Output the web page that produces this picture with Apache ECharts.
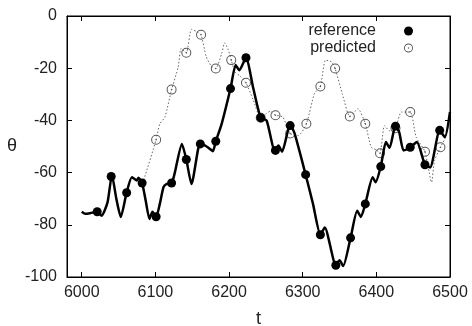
<!DOCTYPE html>
<html>
<head>
<meta charset="utf-8">
<script src="https://cdn.jsdelivr.net/npm/echarts@6/dist/echarts.min.js"></script>
<style>
  html, body { margin: 0; padding: 0; background: #fff; }
  #chart { width: 472px; height: 326px; }
</style>
</head>
<body>
<div id="chart"></div>
<script>
const xTicks = [6000, 6100, 6200, 6300, 6400, 6500];
const yTicks = [-100, -80, -60, -40, -20, 0];

// reference curve (solid)
const refT = [6000, 6005, 6012, 6021, 6027, 6035, 6041, 6047, 6053, 6061, 6068, 6072, 6075, 6077, 6082,
  6087, 6092, 6096, 6101, 6106, 6111, 6115, 6122, 6126, 6136, 6142, 6149, 6158, 6161, 6167, 6172, 6178,
  6182, 6190, 6202, 6209, 6214, 6223, 6233, 6243, 6251, 6262, 6267, 6272, 6283, 6289, 6304, 6314, 6324,
  6330, 6345, 6350, 6355, 6365, 6374, 6379, 6385, 6395, 6399, 6406, 6413, 6418, 6426, 6431, 6437, 6446,
  6455, 6466, 6473, 6486, 6493, 6500];
const refTheta = [-75, -75.8, -75.5, -75, -76.5, -71.4, -61, -70, -77, -67.6, -61.8, -62.5, -63, -62, -64,
  -71, -77.8, -75, -77, -72, -65.6, -64.4, -64, -60.5, -49, -55, -64.4, -51, -49, -49.6, -50.5, -51.8,
  -48, -41.3, -27.8, -18.8, -20.8, -16, -27.8, -39, -40, -51.5, -49.6, -52, -41.5, -45, -60.8, -72, -83.8,
  -81, -95.5, -93.6, -95.8, -85, -74.6, -77, -72, -61.8, -63.7, -57.7, -48.3, -50.5, -42, -44.5, -51.5, -50.3,
  -48.3, -57, -58, -43.8, -46.4, -36.8];

// predicted curve (dotted)
const predT = [6082, 6084, 6101, 6106, 6113, 6122, 6131, 6135, 6142, 6149, 6156, 6162, 6169, 6176, 6182,
  6190, 6194, 6199, 6203, 6208, 6215, 6223, 6233, 6243, 6250, 6256, 6263, 6273, 6283, 6294, 6305, 6316,
  6324, 6331, 6339, 6344, 6354, 6364, 6375, 6385, 6393, 6400, 6405, 6411, 6418, 6426, 6434, 6446, 6454,
  6466, 6475, 6479, 6487, 6493, 6500];
const predTheta = [-64, -63, -47.4, -41.3, -38.7, -28.2, -19.5, -12.4, -14.1, -5.1, -6, -7.2, -15.6, -19.2, -20.1,
  -14.4, -10.3, -13, -16.9, -21.4, -23, -25.6, -32.3, -39, -37.5, -36.5, -38, -38.7, -45, -45.8, -41.3, -29.7,
  -27, -16.9, -17.6, -20.1, -30, -38.5, -35.5, -41.3, -50.3, -51.3, -52.6, -42, -44, -43, -36.8, -36.8, -46.4,
  -52, -63.7, -55.4, -50.3, -47, -39.4];

// sampled points (markers)
const refMarkT = [6021, 6040, 6061, 6082, 6101, 6122, 6142, 6161, 6182, 6202, 6223, 6243, 6263, 6283,
  6304, 6324, 6345, 6365, 6385, 6406, 6426, 6446, 6466, 6486];
const refMarkTheta = [-75, -61.5, -67.7, -64, -76.9, -64, -55, -49, -48, -27.8, -16, -39, -51.5, -42,
  -60.8, -83.8, -95.5, -85, -72, -57.7, -42.2, -50.3, -57, -43.8];
const predMarkT = [6101, 6122, 6142, 6162, 6182, 6203, 6223, 6243, 6263, 6283, 6305, 6324, 6344, 6364,
  6385, 6405, 6426, 6446, 6466, 6487];
const predMarkTheta = [-47.4, -28.2, -14.1, -7.2, -20.1, -16.9, -25.6, -39, -38, -45, -41.3, -27, -20.1, -38.5,
  -41.3, -52.6, -43, -36.8, -52, -50.3];

const zip = (a, b) => a.map((v, i) => [v, b[i]]);

const ringDot = 'path://M0,-10A10,10 0 1,1 0,10A10,10 0 1,1 0,-10Z' +
  'M0,-8A8,8 0 1,0 0,8A8,8 0 1,0 0,-8Z' +
  'M0,-1.6A1.6,1.6 0 1,1 0,1.6A1.6,1.6 0 1,1 0,-1.6Z';

const font = "'Liberation Sans', Arial, Helvetica, sans-serif";
const chart = echarts.init(document.getElementById('chart'));

const baseX = {
  type: 'value', min: 5980, max: 6500,
  axisLine: { show: true, onZero: false, lineStyle: { color: '#000', width: 1 } },
  axisTick: { show: true, inside: true, length: 5, customValues: xTicks, lineStyle: { color: '#000' } },
  splitLine: { show: false }
};
const baseY = {
  type: 'value', min: -100, max: 0, interval: 20,
  axisLine: { show: true, onZero: false, lineStyle: { color: '#000', width: 1 } },
  axisTick: { show: true, inside: true, length: 5, lineStyle: { color: '#000' } },
  splitLine: { show: false }
};

chart.setOption({
  animation: false,
  backgroundColor: '#fff',
  textStyle: { fontFamily: font },
  grid: {
    left: 67, right: 22, top: 16, bottom: 49, show: true, borderColor: '#000', borderWidth: 1,
    containLabel: false, outerBoundsMode: 'none'
  },
  legend: {
    data: ['reference', 'predicted'],
    orient: 'vertical',
    right: 54, top: 18,
    align: 'right',
    itemWidth: 9, itemHeight: 9, itemGap: 1,
    textStyle: { fontFamily: font, fontSize: 16, color: '#222', padding: [0, 23, 0, 0] }
  },
  xAxis: [
    Object.assign({}, baseX, {
      position: 'bottom',
      name: 't', nameLocation: 'middle', nameGap: 33,
      nameTextStyle: { fontFamily: font, fontSize: 18, color: '#222' },
      axisLabel: {
        customValues: xTicks, fontFamily: font, fontSize: 16, color: '#222', margin: 8,
        formatter: (v) => String(v)
      }
    }),
    Object.assign({}, baseX, { position: 'top', axisLabel: { show: false } })
  ],
  yAxis: [
    Object.assign({}, baseY, {
      position: 'left',
      name: 'θ', nameLocation: 'middle', nameRotate: 0, nameGap: 50,
      nameTextStyle: { fontFamily: font, fontSize: 18, color: '#222' },
      axisLabel: { fontFamily: font, fontSize: 16, color: '#222', margin: 10 }
    }),
    Object.assign({}, baseY, { position: 'right', axisLabel: { show: false } })
  ],
  series: [
    {
      name: 'predicted line', type: 'line', xAxisIndex: 0, yAxisIndex: 0,
      data: zip(predT, predTheta), showSymbol: false, silent: true, z: 1, smooth: 0.2,
      lineStyle: { color: '#666', width: 1, type: [1.5, 2] }
    },
    {
      name: 'predicted', type: 'scatter', xAxisIndex: 0, yAxisIndex: 0,
      data: zip(predMarkT, predMarkTheta), symbol: ringDot, symbolSize: 10, z: 2,
      itemStyle: { color: '#555', opacity: 1 }
    },
    {
      name: 'reference line', type: 'line', xAxisIndex: 0, yAxisIndex: 0,
      data: zip(refT, refTheta), showSymbol: false, silent: true, z: 3, smooth: 0.2,
      lineStyle: { color: '#000', width: 2.5 }
    },
    {
      name: 'reference', type: 'scatter', xAxisIndex: 0, yAxisIndex: 0,
      data: zip(refMarkT, refMarkTheta), symbol: 'circle', symbolSize: 9, z: 4,
      itemStyle: { color: '#000', opacity: 1 }
    }
  ]
});
</script>
</body>
</html>
